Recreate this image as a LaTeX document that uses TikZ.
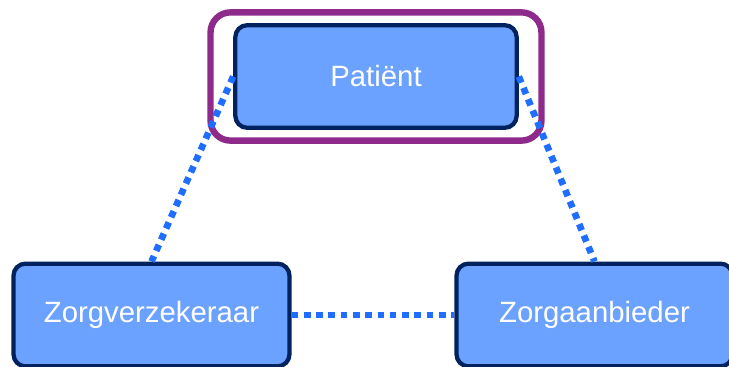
\documentclass[tikz,border=0pt]{standalone}
\usepackage{fontspec}
\setmainfont{Liberation Sans}
\usetikzlibrary{fit}

\definecolor{boxfill}{HTML}{6CA2FF}
\definecolor{boxline}{HTML}{00225F}
\definecolor{linkblue}{HTML}{1F6EFF}
\definecolor{framepurple}{HTML}{8E2A8A}

\tikzset{
  party/.style={draw=boxline,fill=boxfill,line width=3.2pt,rounded corners=9pt,
    text=white,font=\fontsize{22}{26}\selectfont,minimum height=77pt},
  link/.style={draw=linkblue,line width=5pt,dash pattern=on 5pt off 4.2pt},
  frame/.style={draw=framepurple,line width=4.8pt,rounded corners=15pt}
}

\begin{document}
\begin{tikzpicture}[x=0.75pt,y=-0.75pt]
  \useasboundingbox (0,0) rectangle (729,367);
  \clip (0,0) rectangle (729,367);
  \node[party,minimum width=211pt] (pat) at (376,76.5) {Patiënt};
  \node[party,minimum width=207pt] (zv) at (151.5,315) {Zorgverzekeraar};
  \node[party,minimum width=207pt] (za) at (594.5,315) {Zorgaanbieder};
  \node[frame,fit=(pat),inner xsep=17pt,inner ysep=8pt] (patframe) {};
  \draw[link] (pat.west) -- (zv.north);
  \draw[link] (pat.east) -- (za.north);
  \draw[link] (zv.east) -- (za.west);
\end{tikzpicture}
\end{document}
